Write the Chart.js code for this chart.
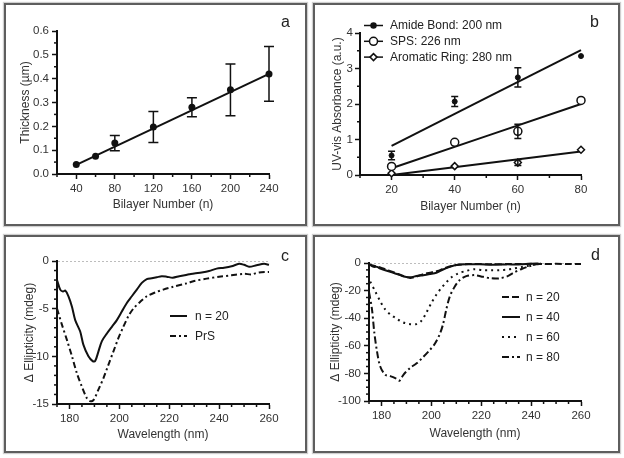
<!DOCTYPE html>
<html>
<head>
<meta charset="utf-8">
<title>Bilayer films: thickness, UV-vis and CD</title>
<script src="https://cdn.jsdelivr.net/npm/chart.js@4.4.1/dist/chart.umd.min.js"></script>
<style>
  body { margin: 0; width: 624px; height: 458px; position: relative; background: #fff; overflow: hidden; font-family: "Liberation Sans", Arial, sans-serif; }
  .panel { position: absolute; border: 2px solid #5e5e5e; box-shadow: 0 0 1px 1px #cfcfcf; background: #fff; }
  .panel canvas { display: block; }
  .tag { position: absolute; font-size: 16px; line-height: 16px; color: #222; }
</style>
</head>
<body>
<div class="panel" style="left:4px;top:3px;width:299px;height:219px"><canvas id="grafico-a" width="299" height="219"></canvas></div>
<div class="panel" style="left:313px;top:3px;width:303px;height:219px"><canvas id="grafico-b" width="303" height="219"></canvas></div>
<div class="panel" style="left:4px;top:235px;width:299px;height:214px"><canvas id="grafico-c" width="299" height="214"></canvas></div>
<div class="panel" style="left:313px;top:235px;width:303px;height:214px"><canvas id="grafico-d" width="303" height="214"></canvas></div>
<div class="tag" style="left:281px;top:14px">a</div>
<div class="tag" style="left:590px;top:14px">b</div>
<div class="tag" style="left:281px;top:248px">c</div>
<div class="tag" style="left:591px;top:247px">d</div>
<script>
// ---- Panel a: espesor vs numero de bicapas ----
var aBicapas = [40, 60, 80, 120, 160, 200, 240];
var aEspesor = [0.04, 0.074, 0.13, 0.197, 0.28, 0.353, 0.42];
var aError = [0, 0, 0.032, 0.065, 0.04, 0.109, 0.115];
var aAjusteX = [40, 240];
var aAjusteY = [0.038, 0.42];
var aTicksX = [40, 80, 120, 160, 200, 240];
var aMenoresX = [20, 60, 100, 140, 180, 220];
var aTicksY = [0, 0.1, 0.2, 0.3, 0.4, 0.5, 0.6];
var aMenoresY = [0.05, 0.15, 0.25, 0.35, 0.45, 0.55];

// ---- Panel b: absorbancia UV-vis ----
var bBicapas = [20, 40, 60, 80];
var bAmida = [0.55, 2.07, 2.75, 3.35];
var bAmidaErr = [0.12, 0.14, 0.27, 0];
var bSps = [0.24, 0.92, 1.23, 2.1];
var bSpsErr = [0, 0, 0.2, 0];
var bAromatico = [0.05, 0.25, 0.35, 0.71];
var bAromaticoErr = [0, 0, 0.08, 0];
var bAjusteX = [20, 80];
var bAmidaAjuste = [0.82, 3.52];
var bSpsAjuste = [0.19, 2.0];
var bAromaticoAjuste = [0.0, 0.66];
var bTicksX = [20, 40, 60, 80];
var bMenoresX = [10, 30, 50, 70];
var bTicksY = [0, 1, 2, 3, 4];
var bMenoresY = [0.5, 1.5, 2.5, 3.5];

// ---- Panel c: dicroismo circular n = 20 vs PrS ----
var cN20X = [175, 176.3, 177.4, 178.3, 179.6, 181, 182.3, 184.3, 185.6, 187.6, 189.3, 190.3, 191.6, 193, 195, 197, 199, 201, 203, 205, 207, 209, 211, 213, 215, 217, 219, 221.4, 224, 228, 230, 233, 236, 239, 242, 245, 248, 250, 252, 255, 258, 260];
var cN20Y = [-2.0, -3.0, -3.2, -3.1, -3.7, -4.8, -6.2, -7.4, -8.8, -10.0, -10.5, -10.5, -9.5, -8.4, -7.6, -6.9, -6.2, -5.3, -4.4, -3.7, -3.0, -2.3, -1.9, -1.8, -1.7, -1.6, -1.65, -1.75, -1.6, -1.4, -1.3, -1.2, -1.05, -0.8, -0.7, -0.55, -0.3, -0.4, -0.6, -0.45, -0.3, -0.4];
var cPrSX = [175, 177, 179, 181, 183, 185, 187, 188.3, 189.6, 191.6, 193.6, 195.6, 197.6, 199.6, 201.6, 203.6, 205.6, 208.3, 211, 214.3, 217.6, 221.6, 227, 230, 235, 240, 245, 250, 253, 256, 260];
var cPrSY = [-5.0, -6.7, -8.3, -10.0, -11.8, -13.2, -14.4, -14.7, -14.6, -13.5, -12.3, -10.9, -9.5, -8.1, -6.9, -5.8, -5.0, -4.3, -3.7, -3.3, -3.0, -2.7, -2.35, -2.1, -1.85, -1.65, -1.5, -1.35, -1.4, -1.2, -1.15];
var cdTicksX = [180, 200, 220, 240, 260];
var cdMenoresX = [175, 185, 190, 195, 205, 210, 215, 225, 230, 235, 245, 250, 255];
var cTicksY = [0, -5, -10, -15];
var cMenoresY = [-1, -2, -3, -4, -6, -7, -8, -9, -11, -12, -13, -14];

// ---- Panel d: dicroismo circular n = 20..80 ----
var dN20X = [175, 178, 180, 183, 186, 189, 191.5, 194, 197, 200, 203, 205, 208, 211, 215, 220, 225, 230, 235, 240, 245, 250, 255, 260];
var dN20Y = [-1, -2.5, -3.5, -5.5, -7.5, -9.5, -10.8, -9.8, -8, -6.8, -5.5, -4, -2.2, -1.2, -0.8, -0.8, -0.9, -0.8, -0.8, -0.6, -0.8, -0.6, -0.8, -0.7];
var dN40X = [175, 176.9, 178.2, 179.5, 181.5, 183.5, 185.5, 187.5, 189.5, 191.5, 194, 196.8, 199.4, 202, 204.7, 207.4, 210, 214, 219.4, 224.7, 230, 235, 240, 243];
var dN40Y = [-1, -2.8, -2.8, -4, -5.2, -6.4, -7.6, -8.8, -10, -10.4, -9.5, -8.8, -8, -7.1, -4.7, -2.8, -1.4, -0.9, -0.9, -1.2, -1, -1, -0.5, -0.3];
var dN60X = [175.5, 177.5, 179.5, 181.5, 183.5, 185.5, 187.5, 189.5, 191.5, 194, 196, 198, 200, 202, 204, 206, 208, 210.7, 214, 217.4, 220.7, 224, 227.3, 230.6, 233, 236, 239, 242, 244];
var dN60Y = [-13.5, -20.6, -27.7, -33.6, -37.2, -39.6, -42, -43.6, -44.3, -44.3, -42, -36, -29, -23, -18.2, -14, -10.4, -7.6, -5.7, -4.5, -5.2, -5.2, -5.2, -4.7, -4, -3, -2, -1, -0.5];
var dN80X = [175, 176.2, 177.1, 178.2, 179.5, 181.5, 183.5, 185.5, 187.2, 188.8, 191.5, 194.1, 196.8, 199.4, 201.4, 203.4, 204.7, 206, 207.4, 209.4, 211.4, 214, 217.4, 220.7, 224, 227.3, 230.6, 233, 236, 239, 242, 244];
var dN80Y = [-21, -33.6, -50, -64, -75, -81, -82, -83.4, -85.3, -81, -76, -72.7, -68, -63, -58.5, -51.4, -44.3, -33.6, -24.2, -17, -12.3, -9.5, -8.8, -10, -11.1, -11.1, -9.5, -7, -4.5, -2.5, -1, -0.5];
var dTicksY = [0, -20, -40, -60, -80, -100];
var dMenoresY = [-5, -10, -15, -25, -30, -35, -45, -50, -55, -65, -70, -75, -85, -90, -95];

Chart.defaults.font.family = '"Liberation Sans", Arial, sans-serif';
Chart.defaults.color = '#333';
Chart.defaults.animation = false;

// Barras de error verticales con tapas
var barrasError = {
  id: 'barrasError',
  afterDatasetsDraw: function (chart, args, opts) {
    var ctx = chart.ctx, xs = chart.scales.x, ys = chart.scales.y;
    var tapa = opts.tapa || 4;
    chart.data.datasets.forEach(function (ds) {
      if (!ds.errores) return;
      ctx.save();
      ctx.strokeStyle = '#111';
      ctx.lineWidth = 1.5;
      ds.data.forEach(function (p, i) {
        var e = ds.errores[i];
        if (!e) return;
        var px = xs.getPixelForValue(p.x);
        var arriba = ys.getPixelForValue(p.y + e);
        var abajo = ys.getPixelForValue(p.y - e);
        ctx.beginPath();
        ctx.moveTo(px, arriba); ctx.lineTo(px, abajo);
        ctx.moveTo(px - tapa, arriba); ctx.lineTo(px + tapa, arriba);
        ctx.moveTo(px - tapa, abajo); ctx.lineTo(px + tapa, abajo);
        ctx.stroke();
      });
      ctx.restore();
    });
  }
};

// Marcas menores en los ejes
var marcasMenores = {
  id: 'marcasMenores',
  afterDraw: function (chart, args, opts) {
    var ctx = chart.ctx, xs = chart.scales.x, ys = chart.scales.y;
    ctx.save();
    ctx.strokeStyle = '#111';
    ctx.lineWidth = 1.5;
    (opts.x || []).forEach(function (v) {
      var px = xs.getPixelForValue(v);
      ctx.beginPath(); ctx.moveTo(px, xs.top); ctx.lineTo(px, xs.top + 3); ctx.stroke();
    });
    (opts.y || []).forEach(function (v) {
      var py = ys.getPixelForValue(v);
      ctx.beginPath(); ctx.moveTo(ys.right, py); ctx.lineTo(ys.right - 3, py); ctx.stroke();
    });
    ctx.restore();
  }
};

// Leyenda dibujada dentro del panel
var leyenda = {
  id: 'leyenda',
  afterDraw: function (chart, args, o) {
    if (o.x === undefined) return;
    var ctx = chart.ctx;
    var y = o.y;
    chart.data.datasets.forEach(function (ds) {
      if (!ds.enLeyenda) return;
      ctx.save();
      ctx.strokeStyle = '#111';
      ctx.lineWidth = ds.anchoLeyenda || ds.borderWidth || 2;
      ctx.setLineDash(ds.borderDash || []);
      ctx.beginPath(); ctx.moveTo(o.x, y); ctx.lineTo(o.x + o.largo, y); ctx.stroke();
      ctx.setLineDash([]);
      if (ds.pointRadius > 0) {
        ctx.fillStyle = ds.pointBackgroundColor;
        ctx.strokeStyle = ds.pointBorderColor;
        Chart.helpers.drawPoint(ctx, {pointStyle: ds.pointStyle, radius: ds.pointRadius, borderWidth: ds.pointBorderWidth, rotation: 0}, o.x + o.largo / 2, y);
      }
      ctx.fillStyle = '#222';
      ctx.font = '12px "Liberation Sans", Arial, sans-serif';
      ctx.textBaseline = 'middle';
      ctx.fillText(ds.label, o.x + o.largo + o.hueco, y + 0.5);
      ctx.restore();
      y += o.paso;
    });
  }
};

Chart.register(barrasError, marcasMenores, leyenda);

function pares(xs, ys) {
  return xs.map(function (x, i) { return {x: x, y: ys[i]}; });
}

function eje(o) {
  return {
    type: 'linear', position: o.pos, min: o.min, max: o.max,
    afterBuildTicks: function (s) { s.ticks = o.ticks.map(function (v) { return {value: v}; }); },
    afterFit: function (s) { if (o.pos === 'left') s.width = o.size; else s.height = o.size; },
    ticks: {
      font: {size: 11.5}, color: '#333', padding: o.tickPad || 3, maxRotation: 0, minRotation: 0, autoSkip: false,
      callback: o.fmt || function (v) { return String(v); }
    },
    grid: {
      display: true, drawOnChartArea: !!o.cero, lineWidth: 1,
      color: function (c) { return (o.cero && c.tick && c.tick.value === 0) ? '#bdbdbd' : 'rgba(0,0,0,0)'; },
      tickColor: '#111', tickLength: 5, tickWidth: 1.5
    },
    border: {display: true, color: '#111', width: 2, dash: o.cero ? [2, 2] : []},
    title: {display: true, text: o.titulo, color: '#333', font: {size: 12}, padding: {top: o.tpad, bottom: o.tpad}}
  };
}

function linea(label, xs, ys, dash, enLeyenda) {
  return {
    label: label, data: pares(xs, ys), showLine: true, borderColor: '#111', borderWidth: 2,
    borderDash: dash, pointRadius: 0, tension: 0.3, clip: false, enLeyenda: enLeyenda
  };
}

// ---- Grafico a ----
new Chart(document.getElementById('grafico-a').getContext('2d'), {
  type: 'scatter',
  data: {
    datasets: [
      {label: 'Thickness', data: pares(aBicapas, aEspesor), errores: aError, pointRadius: 3.5,
       pointBackgroundColor: '#111', pointBorderColor: '#111', pointBorderWidth: 0, clip: false},
      linea('Fit', aAjusteX, aAjusteY, [], false)
    ]
  },
  options: {
    responsive: false,
    layout: {padding: {left: 0, top: 26, right: 36, bottom: 0}},
    plugins: {legend: {display: false}, tooltip: {enabled: false},
      barrasError: {tapa: 5}, marcasMenores: {x: aMenoresX, y: aMenoresY}},
    scales: {
      x: eje({pos: 'bottom', min: 20, max: 240, ticks: aTicksX, size: 50, titulo: 'Bilayer Number (n)', tpad: 12}),
      y: eje({pos: 'left', min: 0, max: 0.6, ticks: aTicksY, size: 51, titulo: 'Thickness (\u00b5m)', tpad: 12,
              fmt: function (v) { return v.toFixed(1); }})
    }
  }
});

// ---- Grafico b ----
new Chart(document.getElementById('grafico-b').getContext('2d'), {
  type: 'scatter',
  data: {
    datasets: [
      {label: 'Amide Bond: 200 nm', data: pares(bBicapas, bAmida), errores: bAmidaErr, pointRadius: 2.5,
       pointStyle: 'circle', pointBackgroundColor: '#111', pointBorderColor: '#111', pointBorderWidth: 1,
       borderWidth: 1.5, anchoLeyenda: 1.5, enLeyenda: true, clip: false},
      {label: 'SPS: 226 nm', data: pares(bBicapas, bSps), errores: bSpsErr, pointRadius: 4,
       pointStyle: 'circle', pointBackgroundColor: '#fff', pointBorderColor: '#111', pointBorderWidth: 1.5,
       borderWidth: 1.5, anchoLeyenda: 1.5, enLeyenda: true, clip: false},
      {label: 'Aromatic Ring: 280 nm', data: pares(bBicapas, bAromatico), errores: bAromaticoErr, pointRadius: 3.5,
       pointStyle: 'rectRot', pointBackgroundColor: '#fff', pointBorderColor: '#111', pointBorderWidth: 1.5,
       borderWidth: 1.5, anchoLeyenda: 1.5, enLeyenda: true, clip: false},
      linea('Amide fit', bAjusteX, bAmidaAjuste, [], false),
      linea('SPS fit', bAjusteX, bSpsAjuste, [], false),
      linea('Aromatic fit', bAjusteX, bAromaticoAjuste, [], false)
    ]
  },
  options: {
    responsive: false,
    layout: {padding: {left: 0, top: 28, right: 37, bottom: 0}},
    plugins: {legend: {display: false}, tooltip: {enabled: false},
      barrasError: {tapa: 3.5}, marcasMenores: {x: bMenoresX, y: bMenoresY},
      leyenda: {x: 49, y: 20.5, largo: 19, hueco: 7, paso: 15.8}},
    scales: {
      x: eje({pos: 'bottom', min: 10, max: 80, ticks: bTicksX, size: 49, titulo: 'Bilayer Number (n)', tpad: 10}),
      y: eje({pos: 'left', min: 0, max: 4, ticks: bTicksY, size: 45, titulo: 'UV-vis Absorbance (a.u.)', tpad: 15, tickPad: 2})
    }
  }
});

// ---- Grafico c ----
new Chart(document.getElementById('grafico-c').getContext('2d'), {
  type: 'scatter',
  data: {
    datasets: [
      linea('n = 20', cN20X, cN20Y, [], true),
      linea('PrS', cPrSX, cPrSY, [6, 3, 2, 3], true)
    ]
  },
  options: {
    responsive: false,
    layout: {padding: {left: 0, top: 24, right: 36, bottom: 0}},
    plugins: {legend: {display: false}, tooltip: {enabled: false},
      marcasMenores: {x: cdMenoresX, y: cMenoresY},
      leyenda: {x: 164, y: 79, largo: 17, hueco: 8, paso: 20}},
    scales: {
      x: eje({pos: 'bottom', min: 175, max: 260, ticks: cdTicksX, size: 47, titulo: 'Wavelength (nm)', tpad: 9}),
      y: eje({pos: 'left', min: -15, max: 0, ticks: cTicksY, size: 51, titulo: '\u0394 Ellipticity (mdeg)', tpad: 16, cero: true})
    }
  }
});

// ---- Grafico d ----
new Chart(document.getElementById('grafico-d').getContext('2d'), {
  type: 'scatter',
  data: {
    datasets: [
      linea('n = 20', dN20X, dN20Y, [7, 3], true),
      linea('n = 40', dN40X, dN40Y, [], true),
      linea('n = 60', dN60X, dN60Y, [2, 4], true),
      linea('n = 80', dN80X, dN80Y, [7, 3, 2, 3], true)
    ]
  },
  options: {
    responsive: false,
    layout: {padding: {left: 0, top: 26, right: 37, bottom: 0}},
    plugins: {legend: {display: false}, tooltip: {enabled: false},
      marcasMenores: {x: cdMenoresX, y: dMenoresY},
      leyenda: {x: 187, y: 60, largo: 18, hueco: 6, paso: 20}},
    scales: {
      x: eje({pos: 'bottom', min: 175, max: 260, ticks: cdTicksX, size: 50, titulo: 'Wavelength (nm)', tpad: 10}),
      y: eje({pos: 'left', min: -100, max: 0, ticks: dTicksY, size: 54, titulo: '\u0394 Ellipticity (mdeg)', tpad: 13, cero: true})
    }
  }
});
</script>
</body>
</html>
